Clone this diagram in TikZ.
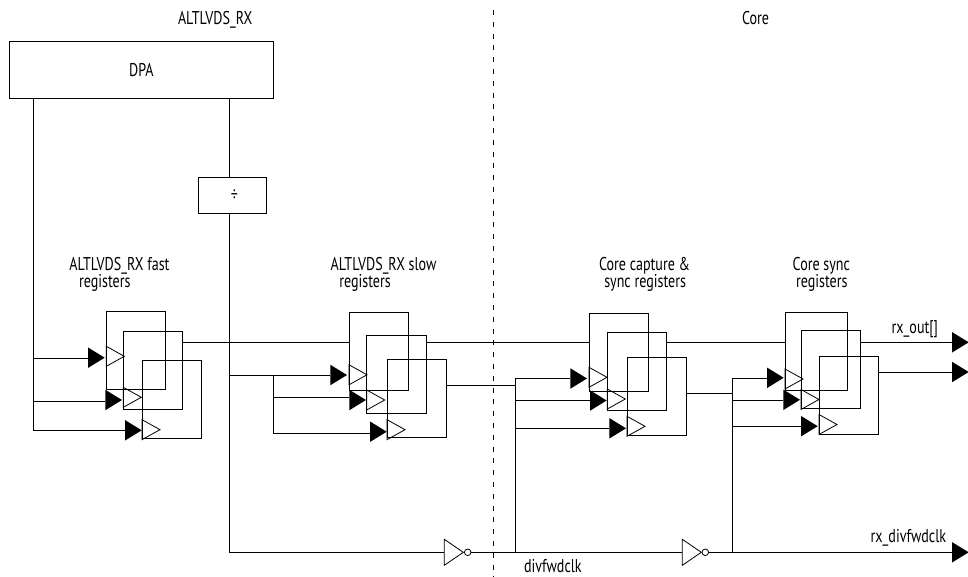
\documentclass[tikz,border=0pt]{standalone}
\usepackage{fontspec}
\setmainfont[FakeStretch=0.76]{PT Sans}
\usetikzlibrary{shapes}
\pgfdeclarelayer{edgelayer}
\pgfdeclarelayer{nodelayer}
\pgfsetlayers{edgelayer,nodelayer,main}
\tikzset{font=\fontsize{18.5}{17.7}\selectfont}
\tikzstyle{none}=[inner sep=0pt,minimum size=0pt,outer sep=0pt]
\tikzstyle{lbl}=[inner sep=0pt,outer sep=0pt,anchor=base west,align=left]
\tikzstyle{box}=[draw,line width=1pt,inner sep=0pt,outer sep=0pt,anchor=north west]
\tikzstyle{reg}=[box,minimum width=59.4pt,minimum height=78pt]
\tikzstyle{tri}=[isosceles triangle,isosceles triangle stretches,shape border rotate=0,inner sep=0pt,outer sep=0pt,anchor=lower side]
\tikzstyle{clk}=[tri,draw,line width=0.8pt,minimum height=18pt,minimum width=20pt]
\tikzstyle{tip}=[tri,fill=black,minimum height=16.7pt,minimum width=20.5pt]
\tikzstyle{inv}=[tri,draw,line width=0.8pt,minimum height=19pt,minimum width=26pt]
\tikzstyle{bub}=[circle,draw,line width=0.8pt,inner sep=0pt,outer sep=0pt,minimum size=6.6pt]

\begin{document}
\begin{tikzpicture}[x=1pt,y=-1pt,line width=1pt]
	\useasboundingbox (0,0) rectangle (968,577);
	\begin{pgfonlayer}{nodelayer}
		\node [style=lbl] (0) at (178, 25) {ALTLVDS\_RX};
		\node [style=lbl] (1) at (742, 25) {Core};
		\node [style=box,minimum width=264pt,minimum height=57pt] (2) at (9.3, 41.3) {DPA\hspace{14pt}};
		\node [style=box,minimum width=68.4pt,minimum height=35.6pt] (3) at (198.3, 177.7) {\hspace{4pt}÷};
		\node [style=lbl] (4) at (69.3, 287.7) {ALTLVDS\_RX fast\\\hspace*{9.7pt}registers};
		\node [style=lbl] (5) at (330.7, 287.7) {ALTLVDS\_RX slow\\\hspace*{8.6pt}registers};
		\node [style=lbl] (6) at (599, 287.7) {Core capture \&\\\hspace*{5.3pt}sync registers};
		\node [style=lbl] (7) at (792.7, 287.7) {Core sync\\\hspace*{3.3pt}registers};
		\node [style=lbl] (8) at (891.7, 333) {rx\_out[]};
		\node [style=lbl] (9) at (870.7, 542.7) {rx\_divfwdclk};
		\node [style=lbl] (10) at (524, 572) {divfwdclk};
		\node [style=reg] (11) at (106.3, 311.3) {};
		\node [style=reg] (12) at (123.3, 331.3) {};
		\node [style=reg] (13) at (142, 360.7) {};
		\node [style=reg] (14) at (349, 312.3) {};
		\node [style=reg] (15) at (366.7, 335.3) {};
		\node [style=reg] (16) at (387, 359.7) {};
		\node [style=reg] (17) at (589, 313) {};
		\node [style=reg] (18) at (607.3, 332.3) {};
		\node [style=reg] (19) at (627, 357.7) {};
		\node [style=reg,minimum width=62.7pt] (20) at (785, 312) {};
		\node [style=reg] (21) at (801, 330.7) {};
		\node [style=reg] (22) at (819, 356) {};
		\node [style=clk] (23) at (106.3, 356.3) {};
		\node [style=clk] (24) at (123.3, 397.3) {};
		\node [style=clk] (25) at (142, 429.7) {};
		\node [style=clk] (26) at (349, 374.8) {};
		\node [style=clk] (27) at (366.7, 400) {};
		\node [style=clk] (28) at (387, 429.7) {};
		\node [style=clk] (29) at (589, 377.3) {};
		\node [style=clk] (30) at (607.3, 399) {};
		\node [style=clk] (31) at (627, 426.3) {};
		\node [style=clk] (32) at (785, 379) {};
		\node [style=clk] (33) at (801, 399.5) {};
		\node [style=clk] (34) at (819, 424.5) {};
		\node [style=tip] (35) at (88, 357.7) {};
		\node [style=tip] (36) at (105.3, 400) {};
		\node [style=tip] (37) at (125, 430.3) {};
		\node [style=tip] (38) at (330.3, 375) {};
		\node [style=tip] (39) at (349.3, 400) {};
		\node [style=tip] (40) at (370, 431.7) {};
		\node [style=tip] (41) at (570.3, 378.5) {};
		\node [style=tip] (42) at (590, 400.5) {};
		\node [style=tip] (43) at (609.3, 428.3) {};
		\node [style=tip] (44) at (767, 377.8) {};
		\node [style=tip] (45) at (783.3, 399.8) {};
		\node [style=tip] (46) at (801, 426.2) {};
		\node [style=tip] (47) at (952, 342.3) {};
		\node [style=tip] (48) at (952, 372) {};
		\node [style=tip] (49) at (952, 552.3) {};
		\node [style=inv] (50) at (444.3, 552.3) {};
		\node [style=bub] (51) at (467.7, 552.3) {};
		\node [style=inv] (52) at (682.3, 552.3) {};
		\node [style=bub] (53) at (705.3, 552.3) {};
		\node [style=none] (54) at (493.3, 10) {};
		\node [style=none] (55) at (493.3, 577) {};
		\node [style=none] (56) at (32.7, 98.3) {};
		\node [style=none] (57) at (32.7, 357.7) {};
		\node [style=none] (58) at (32.7, 401.3) {};
		\node [style=none] (59) at (32.7, 430.3) {};
		\node [style=none] (60) at (229.3, 98.3) {};
		\node [style=none] (61) at (229.3, 177.7) {};
		\node [style=none] (62) at (229.3, 213.3) {};
		\node [style=none] (64) at (229.3, 375) {};
		\node [style=none] (65) at (229.3, 552.3) {};
		\node [style=none] (66) at (272.7, 375) {};
		\node [style=none] (67) at (272.7, 397.3) {};
		\node [style=none] (68) at (272.7, 433) {};
		\node [style=none] (69) at (515.3, 385.3) {};
		\node [style=none] (70) at (515.3, 378.5) {};
		\node [style=none] (71) at (515.3, 400.5) {};
		\node [style=none] (72) at (515.3, 428.3) {};
		\node [style=none] (73) at (515.3, 552.3) {};
		\node [style=none] (74) at (732.3, 393.3) {};
		\node [style=none] (75) at (732.3, 377.8) {};
		\node [style=none] (76) at (732.3, 399.8) {};
		\node [style=none] (77) at (732.3, 426.2) {};
		\node [style=none] (78) at (732.3, 552.3) {};
		\node [style=none] (79) at (183, 342) {};
		\node [style=none] (80) at (349, 342) {};
		\node [style=none] (81) at (426.3, 342) {};
		\node [style=none] (82) at (589, 342) {};
		\node [style=none] (83) at (666.7, 342) {};
		\node [style=none] (84) at (785, 342) {};
		\node [style=none] (85) at (860.3, 342.3) {};
		\node [style=none] (86) at (446.3, 385.3) {};
		\node [style=none] (87) at (686.3, 393.3) {};
		\node [style=none] (88) at (878.3, 372) {};
	\end{pgfonlayer}
	\begin{pgfonlayer}{edgelayer}
		\draw (56.center) to (59.center);
		\draw (57.center) to (35.lower side);
		\draw (58.center) to (58.center -| 36.lower side);
		\draw (59.center) to (37.lower side);
		\draw (60.center) to (61.center);
		\draw (62.center) to (65.center);
		\draw (64.center) to (38.lower side);
		\draw (66.center) to (68.center);
		\draw (67.center) to (67.center -| 39.lower side);
		\draw (68.center) to (68.center -| 40.lower side);
		\draw (69.center) to (86.center);
		\draw (70.center) to (73.center);
		\draw (70.center) to (41.lower side);
		\draw (71.center) to (42.lower side);
		\draw (72.center) to (43.lower side);
		\draw (74.center) to (87.center);
		\draw (75.center) to (78.center);
		\draw (75.center) to (44.lower side);
		\draw (76.center) to (45.lower side);
		\draw (77.center) to (46.lower side);
		\draw (79.center) to (80.center);
		\draw (81.center) to (82.center);
		\draw (83.center) to (84.center);
		\draw (85.center) to (47.lower side);
		\draw (88.center) to (48.lower side);
		\draw (65.center) to (50.lower side);
		\draw (51.east) to (52.lower side);
		\draw (53.east) to (49.lower side);
		\draw [line width=1.6pt,dash pattern=on 5pt off 6.8pt] (54.center) to (55.center);
	\end{pgfonlayer}
\end{tikzpicture}
\end{document}
